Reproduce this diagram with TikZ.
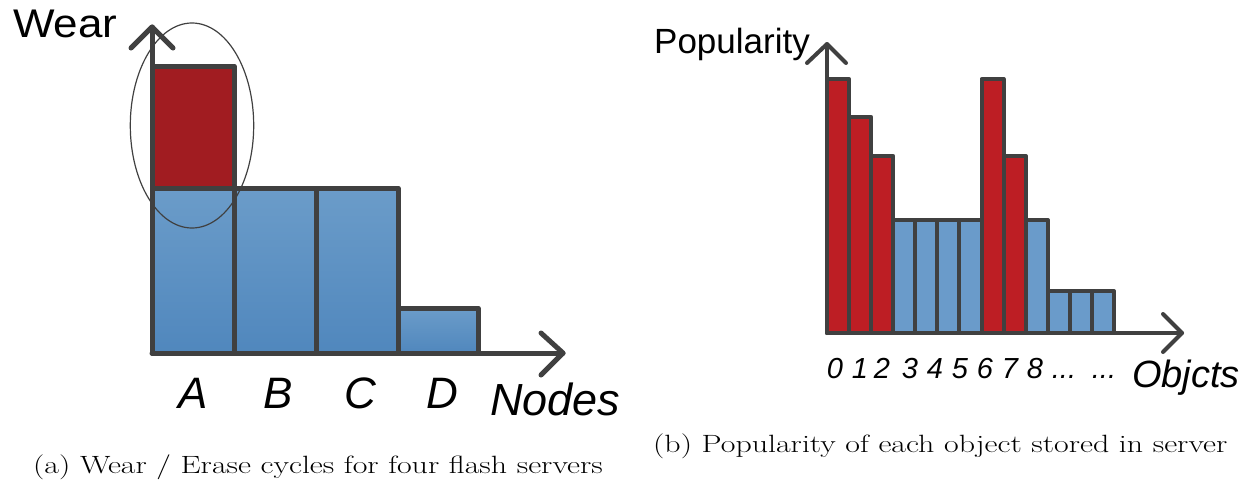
\documentclass[tikz,border=0pt]{standalone}
\usepackage{fontspec}
\newfontfamily\arialish{Liberation Sans}
\definecolor{axisgray}{HTML}{404040}
\definecolor{wearred}{HTML}{A11C21}
\definecolor{weartop}{HTML}{6B9CC9}
\definecolor{wearbot}{HTML}{5087BD}
\definecolor{popred}{HTML}{BD1E24}
\definecolor{popblue}{HTML}{6A9BCA}
\begin{document}
\begin{tikzpicture}[x=1pt,y=-1pt,line join=round,line cap=round,
  wearbar/.style={draw=axisgray,line width=5pt},
  bluebar/.style={wearbar,top color=weartop,bottom color=wearbot},
  axisline/.style={draw=axisgray,line width=5pt},
  popbar/.style={draw=axisgray,line width=4pt},
  popaxis/.style={draw=axisgray,line width=4pt},
  sanslabel/.style={inner sep=0pt,font=\arialish\itshape},
  caption/.style={inner sep=0pt,anchor=west,font=\fontsize{25}{30}\selectfont}]
\useasboundingbox (0,0) rectangle (1258,490);

% ---- (a) wear per flash server ----
\draw[wearbar,fill=wearred] (152,66) rectangle (234,188);
\draw[bluebar] (152,188) rectangle (234,353);
\draw[bluebar] (234,188) rectangle (316,353);
\draw[bluebar] (316,188) rectangle (398,353);
\draw[bluebar] (398,308) rectangle (478,353);
% axes
\coordinate (oa) at (152,353);
\coordinate (ya) at (152,27);
\coordinate (xa) at (563,353);
\draw[axisline] (oa) -- (ya);
\draw[axisline] (oa) -- (xa);
\draw[axisline] (131,48) -- (ya) -- (173,48);
\draw[axisline] (541,333) -- (xa) -- (541,375);
% highlight of the most worn server
\draw[axisgray,line width=1.2pt] (192,125.5) ellipse [x radius=61.7pt,y radius=102.5pt];
% labels
\node[inner sep=0pt,anchor=base west,font=\arialish\fontsize{40}{40}\selectfont] (wear) at (13,37) {\scalebox{1.1}[1]{Wear}};
\foreach \lx/\lt in {193/A,278/B,360/C,442/D}
  \node[sanslabel,anchor=base,font=\arialish\itshape\fontsize{44}{44}\selectfont] (n\lt) at (\lx,408) {\lt};
\node[sanslabel,anchor=base west,font=\arialish\itshape\fontsize{45}{45}\selectfont] (nodes) at (490,415) {Nodes};

% ---- (b) popularity per object ----
\foreach \i/\t/\c in {0/79/popred,1/117/popred,2/156/popred,3/220/popblue,
                      4/220/popblue,5/220/popblue,6/220/popblue,7/79/popred,
                      8/156/popred,9/220/popblue,10/291/popblue,11/291/popblue,
                      12/291/popblue}
  \draw[popbar,fill=\c] ({827+\i*22.08},\t) rectangle ({827+(\i+1)*22.08},333);
\coordinate (ob) at (827,333);
\coordinate (yb) at (827,44);
\coordinate (xb) at (1182,333);
\draw[popaxis] (ob) -- (yb);
\draw[popaxis] (ob) -- (xb);
\draw[popaxis] (807,63) -- (yb) -- (846,63);
\draw[popaxis] (1163,314) -- (xb) -- (1163,352);
\node[inner sep=0pt,anchor=base east,font=\arialish\fontsize{35}{35}\selectfont] (pop) at (810,53) {Popularity};
\foreach \dx/\dt in {835/0,860/1,882/2,910/3,935/4,960/5,985/6,1010/7,1035/8}
  \node[sanslabel,anchor=base,font=\arialish\itshape\fontsize{29}{29}\selectfont] (d\dt) at (\dx,378) {\dt};
\node[sanslabel,anchor=base,font=\arialish\itshape\fontsize{29}{29}\selectfont] (dotsa) at (1064,378) {...};
\node[sanslabel,anchor=base,font=\arialish\itshape\fontsize{29}{29}\selectfont] (dotsb) at (1104,378) {...};
\node[sanslabel,anchor=base west,font=\arialish\itshape\fontsize{38}{38}\selectfont] (objs) at (1132,387) {Objcts};

% ---- captions ----
\node[caption] (capa) at (33,467) {\scalebox{1.275}[1]{(a) Wear / Erase cycles for four flash servers}};
\node[caption] (capb) at (653,446) {\scalebox{1.275}[1]{(b) Popularity of each object stored in server}};
\end{tikzpicture}
\end{document}
